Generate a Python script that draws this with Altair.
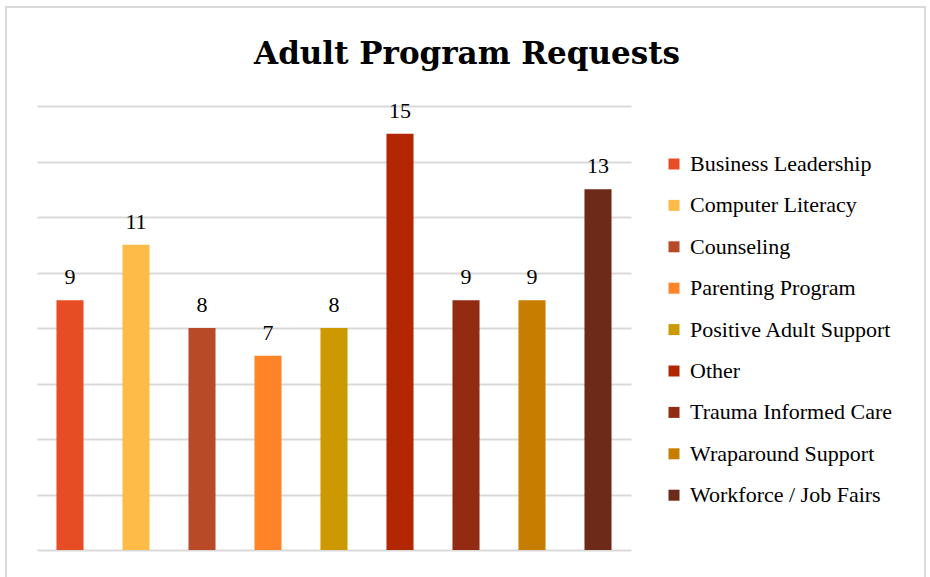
import altair as alt
import pandas as pd

categories = ["Business Leadership", "Computer Literacy", "Counseling", "Parenting Program",
              "Positive Adult Support", "Other", "Trauma Informed Care", "Wraparound Support",
              "Workforce / Job Fairs"]
values = [9, 11, 8, 7, 8, 15, 9, 9, 13]
colors = ["#E64D25", "#FFBB48", "#B84A27", "#FF8428", "#CC9A00", "#B22600", "#922B11", "#C77E00", "#6D2A18"]

df = pd.DataFrame({"Program": categories, "Requests": values})

x = alt.X("Program:N", sort=categories, axis=None,
          scale=alt.Scale(paddingInner=0.59, paddingOuter=0.295))
y = alt.Y("Requests:Q", scale=alt.Scale(domain=[0, 16], nice=False),
          axis=alt.Axis(values=list(range(0, 17, 2)), labels=False, ticks=False, domain=False,
                        title=None, grid=True, gridColor="#D9D9D9", gridWidth=2))

bars = alt.Chart(df).mark_bar().encode(
    x=x, y=y,
    color=alt.Color("Program:N", sort=categories,
                    scale=alt.Scale(domain=categories, range=colors),
                    legend=alt.Legend(title=None, orient="none", legendX=626, legendY=47,
                                      symbolType="square", symbolSize=121, symbolStrokeWidth=0,
                                      labelFont="Liberation Serif", labelFontSize=22,
                                      labelColor="#000000", rowPadding=19.4, labelOffset=5,
                                      padding=0, labelLimit=300))
)

labels = alt.Chart(df).mark_text(font="Liberation Serif", fontSize=22, color="#000000",
                                 baseline="alphabetic", dy=-16).encode(
    x=alt.X("Program:N", sort=categories), y="Requests:Q", text="Requests:Q")

frame = alt.Chart(pd.DataFrame({"a": [0]})).mark_rect(fill=None, stroke="#D9D9D9", strokeWidth=2).encode(
    x=alt.value(-31), x2=alt.value(888), y=alt.value(-99), y2=alt.value(490))

chart = alt.layer(frame, bars, labels).properties(
    width=594, height=444,
    autosize=alt.AutoSizeParams(type="none"),
    padding={"left": 37, "top": 106, "right": 299, "bottom": 27},
    title=alt.TitleParams("Adult Program Requests", font="DejaVu Serif", fontSize=31,
                          fontWeight="bold", color="#000000", anchor="middle", dx=133,
                          offset=-89, baseline="alphabetic"),
).configure_view(stroke=None)

chart.save("out.html", embed_options={"renderer": "svg", "actions": False})
